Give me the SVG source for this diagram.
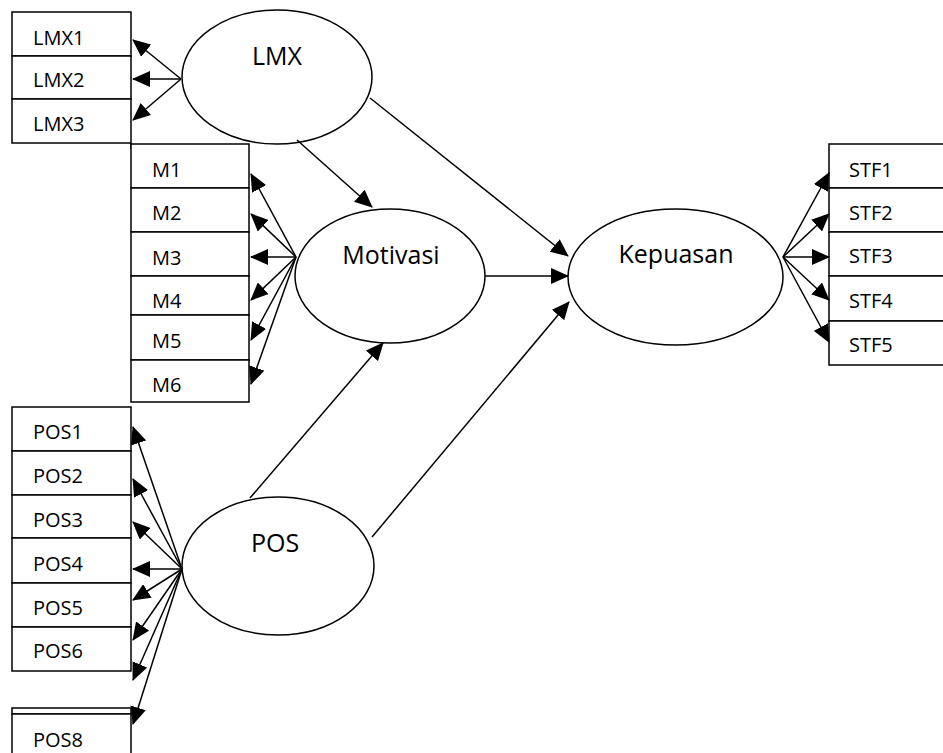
<svg xmlns="http://www.w3.org/2000/svg" width="943" height="753" viewBox="0 0 943 753">
<style>
.box{fill:#fff;stroke:#000;stroke-width:1.5}
.ell{fill:#fff;stroke:#000;stroke-width:1.5}
.lbl{font-family:"Open Sans","Noto Sans",sans-serif;font-size:20px;fill:#000}
.big{font-family:"Open Sans","Noto Sans",sans-serif;font-size:25px;fill:#000;text-anchor:middle}
.con line{stroke:#000;stroke-width:1.5;marker-end:url(#ah)}
</style>
<defs>
<marker id="ah" viewBox="0 0 18 16" refX="17" refY="8" markerWidth="18" markerHeight="16" markerUnits="userSpaceOnUse" orient="auto">
<path d="M0,0 L18,8 L0,16 z" fill="#000"/>
</marker>
</defs>
<rect width="943" height="753" fill="#fff"/>

<g id="lmx-indicators">
<g id="LMX1"><rect class="box" x="12" y="12" width="119" height="44"/><text class="lbl" x="33" y="45">LMX1</text></g>
<g id="LMX2"><rect class="box" x="12" y="56" width="119" height="43"/><text class="lbl" x="33" y="87">LMX2</text></g>
<g id="LMX3"><rect class="box" x="12" y="99" width="119" height="44"/><text class="lbl" x="33" y="131">LMX3</text></g>
<line x1="131" y1="143" x2="131" y2="149" stroke="#000" stroke-width="1.5"/>
</g>

<g id="m-indicators">
<g id="M1"><rect class="box" x="131" y="144" width="118" height="44"/><text class="lbl" x="152" y="177">M1</text></g>
<g id="M2"><rect class="box" x="131" y="188" width="118" height="44"/><text class="lbl" x="152" y="220">M2</text></g>
<g id="M3"><rect class="box" x="131" y="232" width="118" height="44"/><text class="lbl" x="152" y="265">M3</text></g>
<g id="M4"><rect class="box" x="131" y="276" width="118" height="39"/><text class="lbl" x="152" y="308">M4</text></g>
<g id="M5"><rect class="box" x="131" y="315" width="118" height="45"/><text class="lbl" x="152" y="348">M5</text></g>
<g id="M6"><rect class="box" x="131" y="360" width="118" height="42"/><text class="lbl" x="152" y="392">M6</text></g>
</g>

<g id="pos-indicators">
<g id="POS1"><rect class="box" x="12" y="407" width="119" height="44"/><text class="lbl" x="33" y="439">POS1</text></g>
<g id="POS2"><rect class="box" x="12" y="451" width="119" height="44"/><text class="lbl" x="33" y="483">POS2</text></g>
<g id="POS3"><rect class="box" x="12" y="495" width="119" height="43"/><text class="lbl" x="33" y="527">POS3</text></g>
<g id="POS4"><rect class="box" x="12" y="538" width="119" height="45"/><text class="lbl" x="33" y="571">POS4</text></g>
<g id="POS5"><rect class="box" x="12" y="583" width="119" height="44"/><text class="lbl" x="33" y="615">POS5</text></g>
<g id="POS6"><rect class="box" x="12" y="627" width="119" height="44"/><text class="lbl" x="33" y="658">POS6</text></g>
<g id="POS7"><rect class="box" x="12" y="708" width="119" height="6"/></g>
<g id="POS8"><rect class="box" x="12" y="714" width="119" height="50"/><text class="lbl" x="33" y="747">POS8</text></g>
</g>

<g id="stf-indicators">
<g id="STF1"><rect class="box" x="829" y="144" width="130" height="44"/><text class="lbl" x="849" y="177">STF1</text></g>
<g id="STF2"><rect class="box" x="829" y="188" width="130" height="44"/><text class="lbl" x="849" y="220">STF2</text></g>
<g id="STF3"><rect class="box" x="829" y="232" width="130" height="44"/><text class="lbl" x="849" y="263">STF3</text></g>
<g id="STF4"><rect class="box" x="829" y="276" width="130" height="45"/><text class="lbl" x="849" y="308">STF4</text></g>
<g id="STF5"><rect class="box" x="829" y="321" width="130" height="44"/><text class="lbl" x="849" y="352">STF5</text></g>
</g>

<g id="LMX"><ellipse class="ell" cx="277" cy="77" rx="95" ry="67"/><text class="big" x="277" y="65">LMX</text></g>
<g id="Motivasi"><ellipse class="ell" cx="390" cy="276" rx="95" ry="67"/><text class="big" x="391" y="264">Motivasi</text></g>
<g id="Kepuasan"><ellipse class="ell" cx="675.5" cy="277" rx="107.5" ry="68"/><text class="big" x="676" y="263">Kepuasan</text></g>
<g id="POS"><ellipse class="ell" cx="278" cy="566" rx="96" ry="69"/><text class="big" x="275" y="552">POS</text></g>

<g id="connectors" class="con">
<line x1="181" y1="79" x2="133" y2="40"/>
<line x1="181" y1="79" x2="133" y2="79"/>
<line x1="181" y1="79" x2="133" y2="120"/>

<line x1="296" y1="257" x2="251" y2="174"/>
<line x1="296" y1="257" x2="251" y2="214"/>
<line x1="296" y1="257" x2="251" y2="257"/>
<line x1="296" y1="257" x2="251" y2="300"/>
<line x1="296" y1="257" x2="251" y2="340"/>
<line x1="296" y1="257" x2="251" y2="384"/>

<line x1="783" y1="257" x2="829" y2="173"/>
<line x1="783" y1="257" x2="829" y2="214"/>
<line x1="783" y1="257" x2="829" y2="257"/>
<line x1="783" y1="257" x2="829" y2="300"/>
<line x1="783" y1="257" x2="829" y2="342"/>

<line x1="182" y1="569" x2="133" y2="427"/>
<line x1="182" y1="569" x2="133" y2="479"/>
<line x1="182" y1="569" x2="133" y2="522"/>
<line x1="182" y1="569" x2="133" y2="569"/>
<line x1="182" y1="569" x2="133" y2="600"/>
<line x1="182" y1="569" x2="133" y2="640"/>
<line x1="182" y1="569" x2="133" y2="680"/>
<line x1="182" y1="569" x2="133" y2="724"/>

<line x1="297" y1="140" x2="372" y2="207"/>
<line x1="370" y1="98" x2="568" y2="256"/>
<line x1="485" y1="276" x2="568" y2="276"/>
<line x1="250" y1="498" x2="383" y2="343"/>
<line x1="372" y1="537" x2="569" y2="302"/>
</g>
</svg>
